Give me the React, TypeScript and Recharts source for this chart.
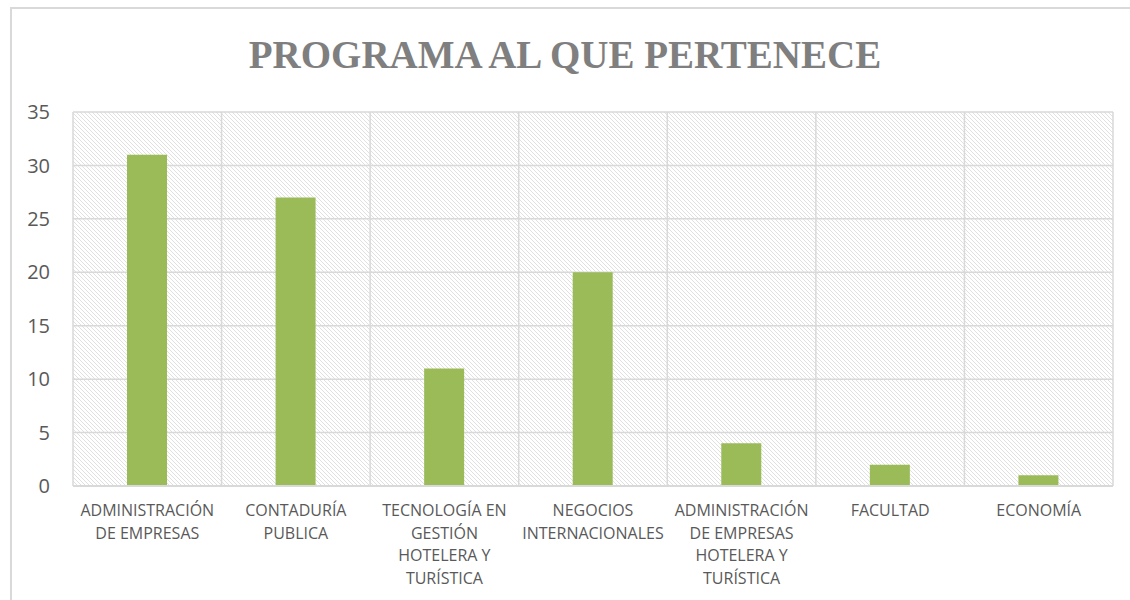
import { BarChart, Bar, XAxis, YAxis, CartesianGrid } from "recharts"

const programas = [
  "ADMINISTRACIÓN DE EMPRESAS",
  "CONTADURÍA PUBLICA",
  "TECNOLOGÍA EN GESTIÓN HOTELERA Y TURÍSTICA",
  "NEGOCIOS INTERNACIONALES",
  "ADMINISTRACIÓN DE EMPRESAS HOTELERA Y TURÍSTICA",
  "FACULTAD",
  "ECONOMÍA",
]
const cantidades = [31, 27, 11, 20, 4, 2, 1]
const yTicks = [0, 5, 10, 15, 20, 25, 30, 35]

const data = programas.map((name, i) => ({ name, value: cantidades[i] }))

// split a label into lines of at most 15 chars
function wrap(text: string, max = 15) {
  const lines: string[] = []
  let cur = ""
  text.split(" ").forEach((w) => {
    if (!cur) cur = w
    else if ((cur + " " + w).length <= max) cur += " " + w
    else {
      lines.push(cur)
      cur = w
    }
  })
  if (cur) lines.push(cur)
  return lines
}

function CategoryTick(props: any) {
  const { x, y, payload } = props
  const lines = wrap(payload.value)
  return (
    <text x={x} y={y} textAnchor="middle" fill="#595959" fontSize={16} fontFamily="'Open Sans', sans-serif">
      {lines.map((l, i) => (
        <tspan key={i} x={x} y={y + 30 + i * 22.5}>
          {l}
        </tspan>
      ))}
    </text>
  )
}

export default function App() {
  return (
    <div style={{ position: "absolute", left: 0, top: 0, width: 1130, height: 600, overflow: "hidden", background: "#fff" }}>
      <div
        style={{
          position: "absolute",
          left: 10,
          top: 7,
          width: 1140,
          height: 620,
          border: "2px solid #d9d9d9",
        }}
      />
      <div
        style={{
          position: "absolute",
          left: 0,
          top: 55,
          width: 1130,
          textAlign: "center",
          fontFamily: "'Liberation Serif', serif",
          fontWeight: "bold",
          fontSize: 39,
          color: "#7f7f7f",
          lineHeight: 0,
        }}
      >
        PROGRAMA AL QUE PERTENECE
      </div>
      <div style={{ position: "absolute", left: 0, top: 0 }}>
        <BarChart width={1130} height={600} data={data} margin={{ top: 112, right: 17, bottom: 0, left: 0 }}>
          <defs>
            <pattern id="hatch" width="4" height="4" patternUnits="userSpaceOnUse">
              <rect width="4" height="4" fill="#ffffff" />
              <path d="M-1,-1 L5,5 M3,-1 L5,1 M-1,3 L1,5" stroke="#e0e0e0" strokeWidth={1} />
            </pattern>
          </defs>
          <CartesianGrid
            fill="url(#hatch)"
            stroke="#d9d9d9"
            strokeWidth={1.5}
            verticalCoordinatesGenerator={({ offset }: any) =>
              programas.map((_, i) => offset.left + (i * offset.width) / programas.length).concat(offset.left + offset.width)
            }
          />
          <XAxis
            dataKey="name"
            height={114}
            axisLine={{ stroke: "#d9d9d9", strokeWidth: 2 }}
            tickLine={false}
            tickSize={0}
            tickMargin={0}
            interval={0}
            tick={<CategoryTick />}
          />
          <YAxis
            width={73}
            domain={[0, 35]}
            ticks={yTicks}
            axisLine={false}
            tickLine={false}
            tickSize={0}
            tickMargin={23}
            tick={{ fill: "#595959", fontSize: 20, fontFamily: "'Open Sans', sans-serif" }}
          />
          <Bar dataKey="value" fill="#9bbb59" barSize={40} isAnimationActive={false} />
        </BarChart>
      </div>
    </div>
  )
}
